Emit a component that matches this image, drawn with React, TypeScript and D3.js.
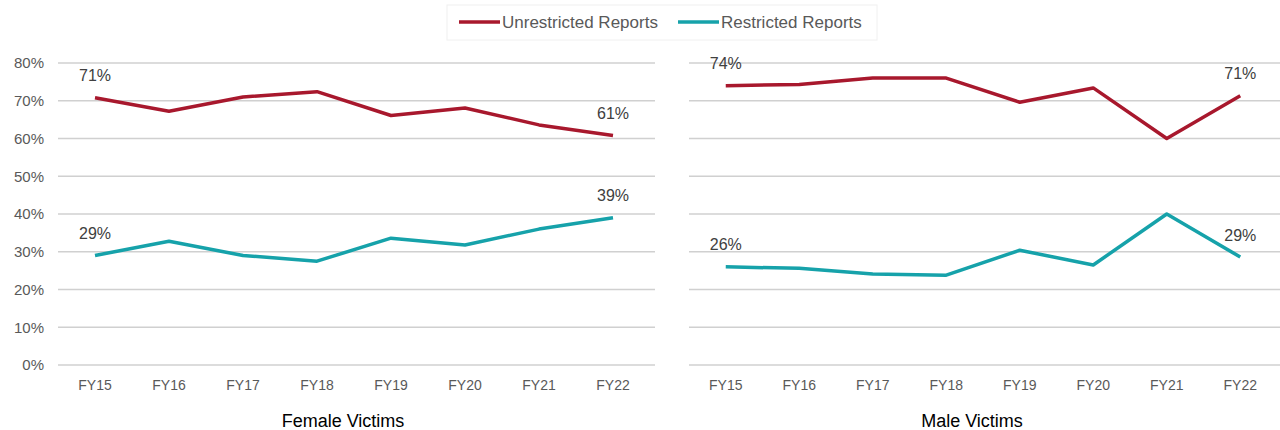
import React, { useEffect, useRef } from 'react'
import * as d3 from 'd3'

const years = ['FY15', 'FY16', 'FY17', 'FY18', 'FY19', 'FY20', 'FY21', 'FY22']
const yTicks = [0, 10, 20, 30, 40, 50, 60, 70, 80]

const femaleUnrestricted = [70.8, 67.2, 71.0, 72.4, 66.1, 68.1, 63.6, 60.8]
const femaleRestricted = [29.0, 32.8, 29.0, 27.5, 33.6, 31.8, 36.0, 39.0]
const maleUnrestricted = [74.0, 74.3, 76.0, 76.0, 69.6, 73.4, 60.0, 71.3]
const maleRestricted = [26.0, 25.6, 24.1, 23.8, 30.4, 26.5, 40.0, 28.6]

const RED = '#a8182d'
const TEAL = '#16a2aa'
const FONT = "'Liberation Sans', Arial, sans-serif"

export default function App() {
  const ref = useRef<SVGSVGElement>(null)

  useEffect(() => {
    const svg = d3.select(ref.current)
    svg.selectAll('*').remove()

    const y = d3.scaleLinear().domain([0, 80]).range([365, 63])

    const panels = [
      { title: 'Female Victims', x0: 58, x1: 650, grid1: 655, un: femaleUnrestricted, re: femaleRestricted, showY: true },
      { title: 'Male Victims', x0: 689, x1: 1277, grid1: 1280, un: maleUnrestricted, re: maleRestricted, showY: false },
    ]

    panels.forEach(p => {
      const x = d3.scaleBand().domain(years).range([p.x0, p.x1])
      const cx = (d: string) => (x(d) as number) + x.bandwidth() / 2
      const g = svg.append('g')

      // gridlines
      g.selectAll('line.grid')
        .data(yTicks)
        .enter().append('line')
        .attr('x1', p.x0)
        .attr('x2', p.grid1)
        .attr('y1', d => y(d))
        .attr('y2', d => y(d))
        .attr('stroke', '#d0d0d0')
        .attr('stroke-width', 1.5)

      if (p.showY) {
        g.selectAll('text.ytick')
          .data(yTicks)
          .enter().append('text')
          .attr('x', 44)
          .attr('y', d => y(d))
          .attr('dy', '0.35em')
          .attr('text-anchor', 'end')
          .attr('font-family', FONT)
          .attr('font-size', 15)
          .attr('fill', '#595959')
          .text(d => d + '%')
      }

      g.selectAll('text.xtick')
        .data(years)
        .enter().append('text')
        .attr('x', d => cx(d))
        .attr('y', 385)
        .attr('dy', '0.35em')
        .attr('text-anchor', 'middle')
        .attr('font-family', FONT)
        .attr('font-size', 14)
        .attr('fill', '#595959')
        .text(d => d)

      g.append('text')
        .attr('x', (p.x0 + p.x1) / 2 - 11)
        .attr('y', 421)
        .attr('dy', '0.35em')
        .attr('text-anchor', 'middle')
        .attr('font-family', FONT)
        .attr('font-size', 18)
        .attr('fill', '#000')
        .text(p.title)

      const line = d3.line<number>()
        .x((_, i) => cx(years[i]))
        .y(d => y(d))

      const series = [{ vals: p.un, color: RED }, { vals: p.re, color: TEAL }]
      series.forEach(s => {
        g.append('path')
          .datum(s.vals)
          .attr('d', line)
          .attr('fill', 'none')
          .attr('stroke', s.color)
          .attr('stroke-width', 3.5)
          .attr('stroke-linejoin', 'round')

        const ends = [0, years.length - 1]
        g.selectAll(null)
          .data(ends)
          .enter().append('text')
          .attr('x', i => cx(years[i]))
          .attr('y', i => y(s.vals[i]) - 22)
          .attr('dy', '0.35em')
          .attr('text-anchor', 'middle')
          .attr('font-family', FONT)
          .attr('font-size', 16)
          .attr('fill', '#404040')
          .text(i => Math.round(s.vals[i]) + '%')
      })
    })

    // legend
    const lg = svg.append('g')
    lg.append('rect')
      .attr('x', 447).attr('y', 5).attr('width', 430).attr('height', 35)
      .attr('fill', 'none').attr('stroke', '#f0f0f0')
    const items = [
      { label: 'Unrestricted Reports', color: RED, x: 459 },
      { label: 'Restricted Reports', color: TEAL, x: 678 },
    ]
    items.forEach(it => {
      lg.append('line')
        .attr('x1', it.x).attr('x2', it.x + 41)
        .attr('y1', 22).attr('y2', 22)
        .attr('stroke', it.color).attr('stroke-width', 3.5)
      lg.append('text')
        .attr('x', it.x + 43).attr('y', 22).attr('dy', '0.35em')
        .attr('font-family', FONT).attr('font-size', 17)
        .attr('fill', '#595959')
        .text(it.label)
    })
  }, [])

  return (
    <svg ref={ref} width={1280} height={430}
      style={{ position: 'absolute', left: 0, top: 0, background: '#fff' }} />
  )
}
